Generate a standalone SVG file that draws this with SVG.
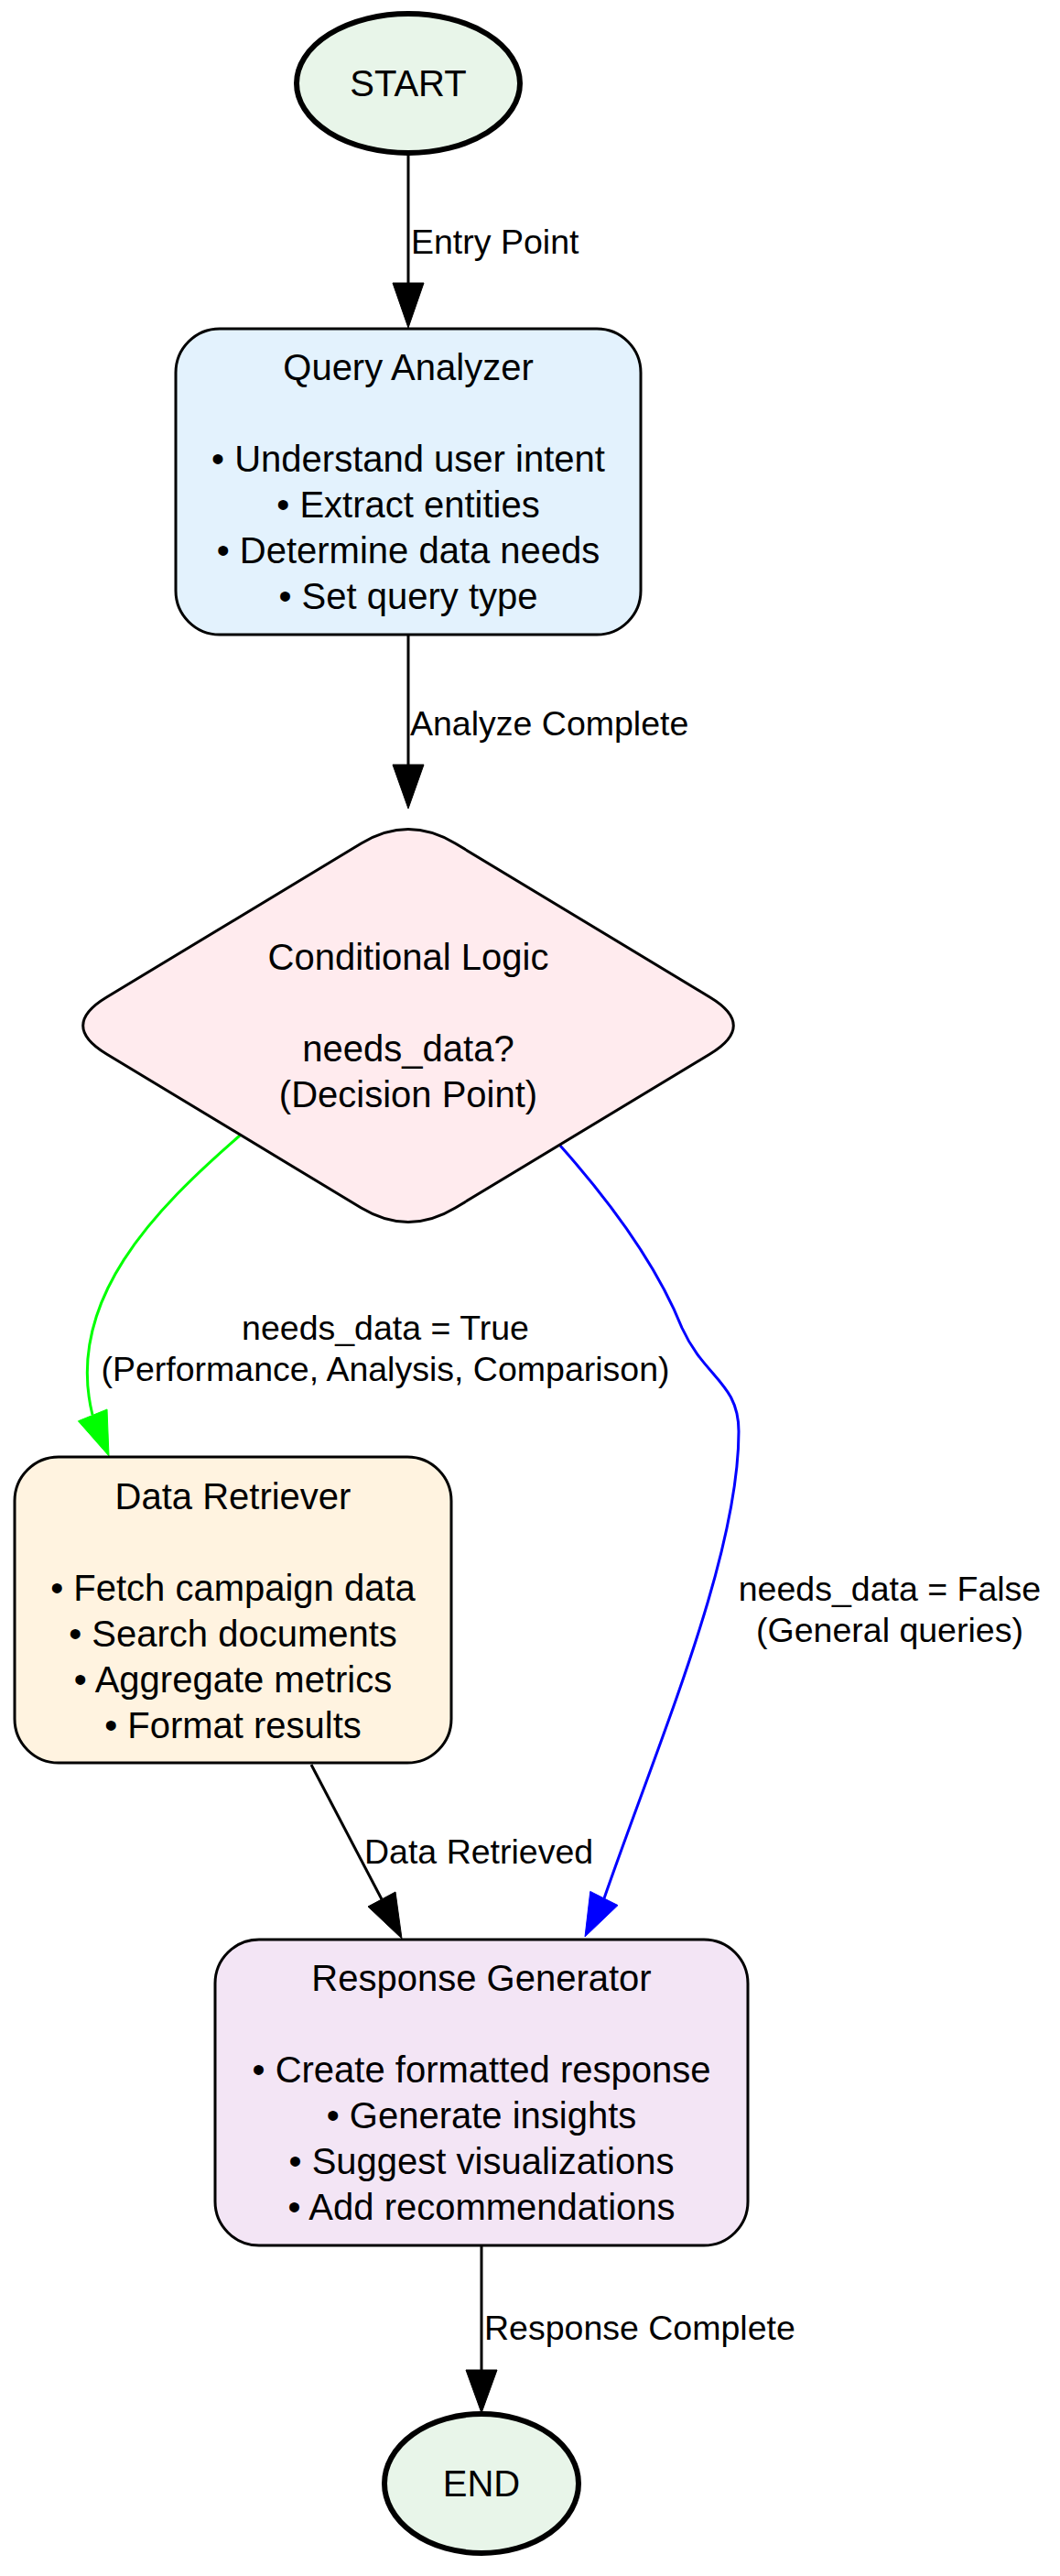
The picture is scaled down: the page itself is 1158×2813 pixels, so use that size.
<svg xmlns="http://www.w3.org/2000/svg" width="1158" height="2813" viewBox="0 0 1158 2813">
<style>
text{font-family:"Liberation Sans",Arial,sans-serif;fill:#000}
.n{font-size:40px;text-anchor:middle}
.e{font-size:37.5px}
.m{text-anchor:middle}
.box{stroke:#000;stroke-width:3}
.term{stroke:#000;stroke-width:6}
.k{fill:none;stroke:#000;stroke-width:3}
</style>
<rect width="1158" height="2813" fill="#fff"/>
<g id="connectors">
  <g id="e-start-qa">
    <path class="k" d="M446,168 L446,309"/>
    <polygon points="429,309 463,309 446,358" fill="#000" stroke="#000" stroke-width="1"/>
    <text class="e" x="449" y="277">Entry Point</text>
  </g>
  <g id="e-qa-cl">
    <path class="k" d="M446,694 L446,835"/>
    <polygon points="429,835 463,835 446,883" fill="#000" stroke="#000" stroke-width="1"/>
    <text class="e" x="448" y="803">Analyze Complete</text>
  </g>
  <g id="e-cl-dr">
    <path d="M262,1240 C170,1320 70,1420 101,1545" fill="none" stroke="#00ff00" stroke-width="3"/>
    <polygon points="117,1539 85.4,1551.8 119,1590" fill="#00ff00" stroke="#00ff00" stroke-width="1"/>
    <text class="e m" x="421" y="1463">needs_data = True</text>
    <text class="e m" x="421" y="1508">(Performance, Analysis, Comparison)</text>
  </g>
  <g id="e-cl-rg">
    <path d="M612,1251 C660,1305 715,1375 745,1450 C770,1505 807,1510 807,1563 C807,1700 720,1900 660,2073" fill="none" stroke="#0000ff" stroke-width="3"/>
    <polygon points="675,2080.6 644.8,2065.4 639,2115" fill="#0000ff" stroke="#0000ff" stroke-width="1"/>
    <text class="e m" x="972" y="1748">needs_data = False</text>
    <text class="e m" x="972" y="1793">(General queries)</text>
  </g>
  <g id="e-dr-rg">
    <path class="k" d="M340,1927 L417,2074"/>
    <polygon points="432,2066 402,2082 439,2117" fill="#000" stroke="#000" stroke-width="1"/>
    <text class="e" x="398" y="2035">Data Retrieved</text>
  </g>
  <g id="e-rg-end">
    <path class="k" d="M526,2453 L526,2588"/>
    <polygon points="509,2588 543,2588 526,2635" fill="#000" stroke="#000" stroke-width="1"/>
    <text class="e" x="529" y="2555">Response Complete</text>
  </g>
</g>
<g id="start">
  <ellipse class="term" cx="446" cy="91" rx="122" ry="76" fill="#e8f5e9"/>
  <text class="n" x="446" y="105">START</text>
</g>
<g id="query_analyzer">
  <rect class="box" x="192" y="359" width="508" height="334" rx="48" ry="48" fill="#e3f2fd"/>
  <text class="n" x="446" y="415">Query Analyzer</text>
  <text class="n" x="446" y="515">• Understand user intent</text>
  <text class="n" x="446" y="565">• Extract entities</text>
  <text class="n" x="446" y="615">• Determine data needs</text>
  <text class="n" x="446" y="665">• Set query type</text>
</g>
<g id="conditional_logic">
  <path class="box" fill="#ffebee" d="M116.4,1089 L394.6,921 Q446,890 497.4,921 L775.6,1089 Q827,1120 775.6,1151 L497.4,1319 Q446,1350 394.6,1319 L116.4,1151 Q65,1120 116.4,1089 Z"/>
  <text class="n" x="446" y="1059">Conditional Logic</text>
  <text class="n" x="446" y="1159">needs_data?</text>
  <text class="n" x="446" y="1209">(Decision Point)</text>
</g>
<g id="data_retriever">
  <rect class="box" x="16" y="1591" width="477" height="334" rx="48" ry="48" fill="#fff3e0"/>
  <text class="n" x="254.5" y="1648">Data Retriever</text>
  <text class="n" x="254.5" y="1748">• Fetch campaign data</text>
  <text class="n" x="254.5" y="1798">• Search documents</text>
  <text class="n" x="254.5" y="1848">• Aggregate metrics</text>
  <text class="n" x="254.5" y="1898">• Format results</text>
</g>
<g id="response_generator">
  <rect class="box" x="235" y="2118" width="582" height="334" rx="48" ry="48" fill="#f3e5f5"/>
  <text class="n" x="526" y="2174">Response Generator</text>
  <text class="n" x="526" y="2274">• Create formatted response</text>
  <text class="n" x="526" y="2324">• Generate insights</text>
  <text class="n" x="526" y="2374">• Suggest visualizations</text>
  <text class="n" x="526" y="2424">• Add recommendations</text>
</g>
<g id="end">
  <ellipse class="term" cx="526" cy="2712" rx="106" ry="76" fill="#e8f5e9"/>
  <text class="n" x="526" y="2726">END</text>
</g>
</svg>
